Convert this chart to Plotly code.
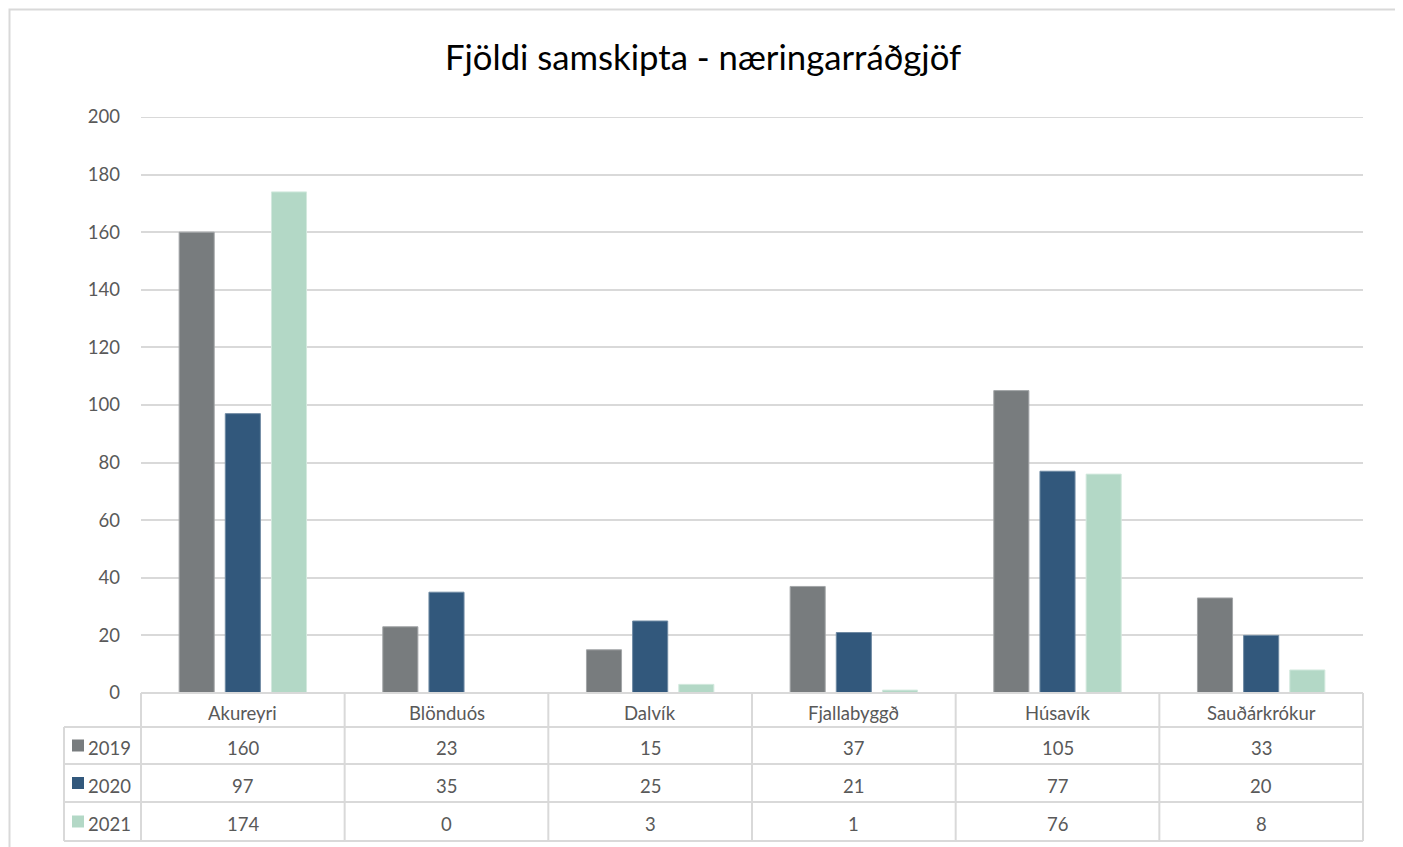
import plotly.graph_objects as go

categories = ["Akureyri", "Blönduós", "Dalvík", "Fjallabyggð", "Húsavík", "Sauðárkrókur"]
series_names = ["2019", "2020", "2021"]
values_2019 = [160, 23, 15, 37, 105, 33]
values_2020 = [97, 35, 25, 21, 77, 20]
values_2021 = [174, 0, 3, 1, 76, 8]
series_values = [values_2019, values_2020, values_2021]
colors = ["#787c7e", "#32587c", "#b3d8c6"]
edge_colors = ["#a3a6a8", "#6f8aa3", "#d3e9de"]
y_ticks = [0, 20, 40, 60, 80, 100, 120, 140, 160, 180, 200]

OFF = 8  # page body margin
W, H = 1403 - OFF, 847 - OFF
L, R = 141 - OFF, 1363 - OFF   # plot area px (figure coords)
T, B = 117 - OFF, 693 - OFF

def px(x):
    return (x - OFF - L) / (R - L)

def py(y):
    return (B - (y - OFF)) / (B - T)

fig = go.Figure()
for name, vals, c, ec in zip(series_names, series_values, colors, edge_colors):
    fig.add_trace(go.Bar(x=categories, y=vals, name=name, marker=dict(color=c, line=dict(color=ec, width=1))))

grid = "#d9d9d9"
txt = "#595959"
font = "Lato, Carlito, Calibri, sans-serif"
fs = 18.5
TXT_DY = 2.5

shapes = []
annotations = []
# outer border
shapes.append(dict(type="rect", xref="paper", yref="paper", x0=px(9.5), x1=px(1398), y0=py(870), y1=py(9.5),
                   line=dict(color=grid, width=2)))
# top gridline (plotly omits the one at the range edge)
shapes.append(dict(type="line", xref="paper", yref="y", x0=0, x1=1, y0=y_ticks[-1], y1=y_ticks[-1],
                   line=dict(color=grid, width=2)))
# table horizontal lines
row_y = [693, 727, 764, 802, 841]
ncat = len(categories)
col_w = (1363 - 141) / ncat
for i, yy in enumerate(row_y):
    x0 = 141 if i == 0 else 64
    shapes.append(dict(type="line", xref="paper", yref="paper", x0=px(x0), x1=px(1363), y0=py(yy), y1=py(yy),
                       line=dict(color=grid, width=2)))
# vertical lines
for j in range(ncat + 1):
    xx = 141 + j * col_w
    shapes.append(dict(type="line", xref="paper", yref="paper", x0=px(xx), x1=px(xx), y0=py(693), y1=py(841),
                       line=dict(color=grid, width=2)))
shapes.append(dict(type="line", xref="paper", yref="paper", x0=px(64), x1=px(64), y0=py(727), y1=py(841),
                   line=dict(color=grid, width=2)))

# header texts
for cat in categories:
    annotations.append(dict(x=cat, xref="x", y=py((693 + 727) / 2 + TXT_DY), yref="paper", text=cat, showarrow=False,
                            font=dict(family=font, size=fs, color=txt), xanchor="center", yanchor="middle"))
# rows
for i, (name, vals, c) in enumerate(zip(series_names, series_values, colors)):
    yc = (row_y[i + 1] + row_y[i + 2]) / 2
    for cat, v in zip(categories, vals):
        annotations.append(dict(x=cat, xref="x", y=py(yc + TXT_DY), yref="paper", text=str(v), showarrow=False,
                                font=dict(family=font, size=fs, color=txt), xanchor="center", yanchor="middle"))
    shapes.append(dict(type="rect", xref="paper", yref="paper", x0=px(72), x1=px(84), y0=py(yc + 6), y1=py(yc - 6),
                       fillcolor=c, line=dict(width=0)))
    annotations.append(dict(x=px(86), xref="paper", y=py(yc + TXT_DY), yref="paper", text=name, showarrow=False,
                            font=dict(family=font, size=fs, color=txt), xanchor="left", yanchor="middle"))

fig.update_layout(
    width=W, height=H,
    margin=dict(l=L, r=W - R, t=T, b=H - B),
    paper_bgcolor="white", plot_bgcolor="white",
    title=dict(text="Fjöldi samskipta - næringarráðgjöf", x=(703 - OFF) / W, xanchor="center", xref="container",
               y=1 - (58 - OFF) / H, yanchor="middle", font=dict(family=font, size=34.7, color="#000000")),
    barmode="group", bargap=0.32, bargroupgap=0.24,
    showlegend=False,
    xaxis=dict(showticklabels=False, showgrid=False, zeroline=False, showline=False, ticks=""),
    yaxis=dict(range=[0, 200], tickvals=y_ticks, showgrid=True, gridcolor=grid, gridwidth=2, zeroline=False,
               tickfont=dict(family=font, size=fs, color=txt), ticklabelstandoff=20, showline=False),
    shapes=shapes, annotations=annotations,
)
fig.write_html("out.html")
